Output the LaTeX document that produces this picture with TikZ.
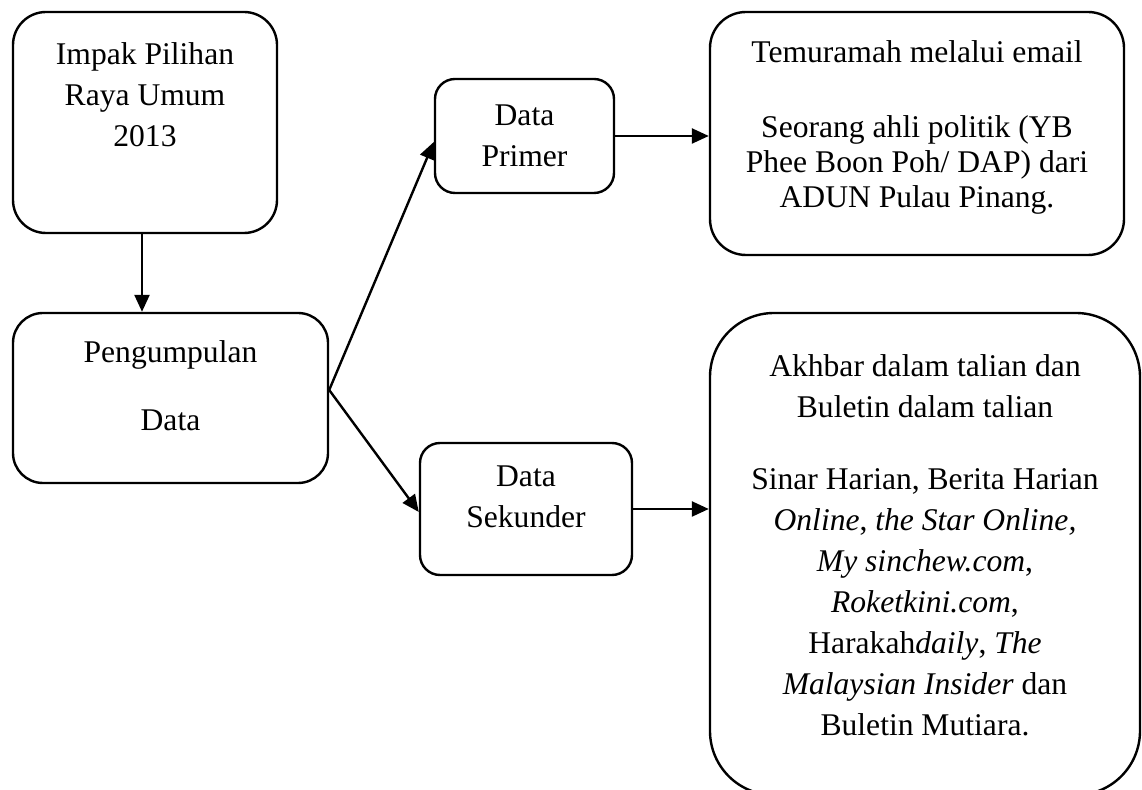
\documentclass[tikz,border=0pt]{standalone}
\usepackage{fontspec}
\setmainfont{Liberation Serif}
\usetikzlibrary{%
	arrows.meta,
	positioning,% wg. " of "
	calc
}
\tikzstyle{box}=[rectangle, draw = black, line width = 1.2pt, align = center, inner sep = 0pt, font = \fontsize{15.8}{20.5}\selectfont]
\tikzstyle{edge} = [draw, line width = 1.2pt, -{Triangle[length=8.5pt, width=7.5pt]}]

\begin{document}
\begin{tikzpicture}[x=0.5pt, y=-0.5pt]
	\useasboundingbox (0,0) rectangle (1142,790);
	
	% First we draw the boxes on the left
	\node[box, rounded corners = 16.5pt, minimum width = 132pt, minimum height = 110.5pt, text depth = 27.5pt] (impak) at (145,122.5) {Impak Pilihan\\Raya Umum\\2013};
	\node[box, rounded corners = 15pt, minimum width = 157.5pt, minimum height = 85pt, text depth = 12pt] (kumpul) at (170.5,398) {Pengumpulan\\[13.5pt]Data};
	
	% Then the two kinds of data
	\node[box, rounded corners = 10pt, minimum width = 89.5pt, minimum height = 57pt] (primer) at (524.5,136) {Data\\Primer};
	\node[box, rounded corners = 10pt, minimum width = 106pt, minimum height = 66pt, text depth = 12pt] (sekunder) at (526,509) {Data\\Sekunder};
	
	% Then the sources
	\node[box, rounded corners = 18pt, minimum width = 207pt, minimum height = 121.5pt, text depth = 9pt, font = \fontsize{15.8}{17.5}\selectfont] (temu) at (917,133.5) {Temuramah melalui email\\[20pt]Seorang ahli politik (YB\\Phee Boon Poh/ DAP) dari\\ADUN Pulau Pinang.};
	\node[box, rounded corners = 32pt, minimum width = 215pt, minimum height = 241pt, text depth = 9pt] (akhbar) at (925,554) {Akhbar dalam talian dan\\Buletin dalam talian\\[15.5pt]Sinar Harian, Berita Harian\\\textit{Online}, \textit{the Star Online,}\\\textit{My sinchew.com},\\\textit{Roketkini.com},\\Harakah\textit{daily}, \textit{The}\\\textit{Malaysian Insider} dan\\Buletin Mutiara.};
	
	% Connect boxes with edges
	\coordinate (split) at ([yshift=4pt]kumpul.east);
	\path[edge] ([xshift=-1.5pt]impak.south) -- ([xshift=-1.5pt]impak.south |- kumpul.north);
	\foreach \dest/\shift in {primer/-3pt, sekunder/-1.5pt}
	\path[edge] (split) -- ([yshift=\shift]\dest.west);
	\foreach \source/ \dest in {primer/temu, sekunder/akhbar}
	\path[edge] (\source.east) -- (\source.east -| \dest.west);
	
\end{tikzpicture}
\end{document}
